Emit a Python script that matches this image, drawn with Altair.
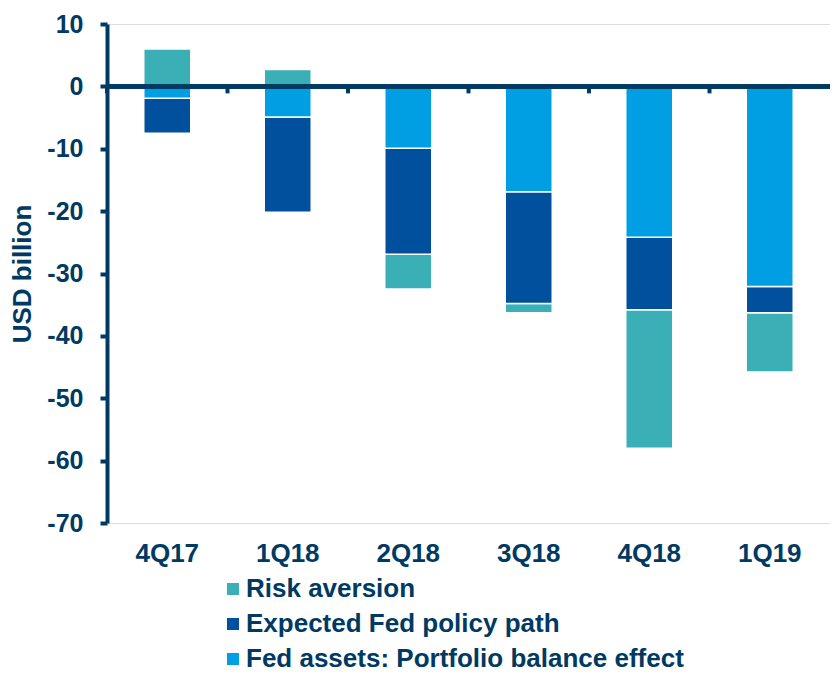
import altair as alt
import pandas as pd

categories = ["4Q17", "1Q18", "2Q18", "3Q18", "4Q18", "1Q19"]
series_names = ["Risk aversion", "Expected Fed policy path", "Fed assets: Portfolio balance effect"]
risk_aversion = [6.0, 2.7, -5.6, -1.5, -22.2, -9.5]
expected_fed = [-5.6, -15.3, -17.0, -17.9, -11.6, -4.2]
fed_assets = [-1.9, -4.9, -9.9, -16.9, -24.2, -32.1]
y_ticks = [10, 0, -10, -20, -30, -40, -50, -60, -70]

colors = ["#3AAFB5", "#00509E", "#009FE3"]
navy = "#003A63"
font = "Arial, Liberation Sans"

rows = []
stack_order = {series_names[2]: 0, series_names[1]: 1, series_names[0]: 2}
for name, vals in zip(series_names, [risk_aversion, expected_fed, fed_assets]):
    for c, v in zip(categories, vals):
        rows.append({"cat": c, "series": name, "value": v, "ord": stack_order[name]})
df = pd.DataFrame(rows)
cat_df = pd.DataFrame({"cat": categories})

x_enc = alt.X(
    "cat:N",
    sort=categories,
    scale=alt.Scale(paddingInner=0, paddingOuter=0),
    axis=alt.Axis(
        title=None, domain=False, ticks=False, labelAngle=0,
        labelFontSize=26, labelFont=font, labelFontWeight="bold",
        labelColor=navy, labelPadding=17,
    ),
)

bars = alt.Chart(df).mark_bar(
    width=alt.RelativeBandSize(0.39), stroke="white", strokeWidth=1.5
).encode(
    x=x_enc,
    y=alt.Y(
        "value:Q",
        stack="zero",
        scale=alt.Scale(domain=[-70, 10], nice=False),
        axis=alt.Axis(
            title="USD billion", values=y_ticks, grid=False,
            labelExpr="datum.value + ''",
            labelFontSize=25, labelFont=font, labelFontWeight="bold",
            labelColor=navy, labelPadding=17,
            tickSize=7, tickWidth=4, tickColor=navy,
            domainWidth=4, domainColor=navy,
            titleFontSize=26, titleFont=font, titleFontWeight="bold",
            titleColor=navy, titlePadding=11,
        ),
    ),
    color=alt.Color(
        "series:N",
        scale=alt.Scale(domain=series_names, range=colors),
        legend=alt.Legend(
            title=None, orient="none", legendX=113, legendY=552,
            direction="vertical", symbolType="square", symbolSize=144,
            symbolStrokeWidth=0, labelFontSize=26, labelFont=font,
            labelFontWeight="bold", labelColor=navy, rowPadding=9,
            labelOffset=0, padding=0, labelLimit=700,
        ),
    ),
    order=alt.Order("ord:Q", sort="ascending"),
)

zero_line = alt.Chart(cat_df).mark_rule(color=navy, strokeWidth=4).encode(
    y=alt.datum(0)
)

cat_ticks = alt.Chart(cat_df).mark_rule(color=navy, strokeWidth=4, y2Offset=7).encode(
    x=alt.X("cat:N", sort=categories, bandPosition=0),
    y=alt.datum(0),
    y2=alt.datum(0),
)

chart = alt.layer(bars, zero_line, cat_ticks).properties(
    width=723,
    height=499,
    autosize=alt.AutoSizeParams(type="none"),
    padding={"left": 99, "top": 16, "right": 0, "bottom": 150},
).configure_view(stroke=None).configure(background="white")

chart.save("out.html", embed_options={"renderer": "svg", "actions": False})
